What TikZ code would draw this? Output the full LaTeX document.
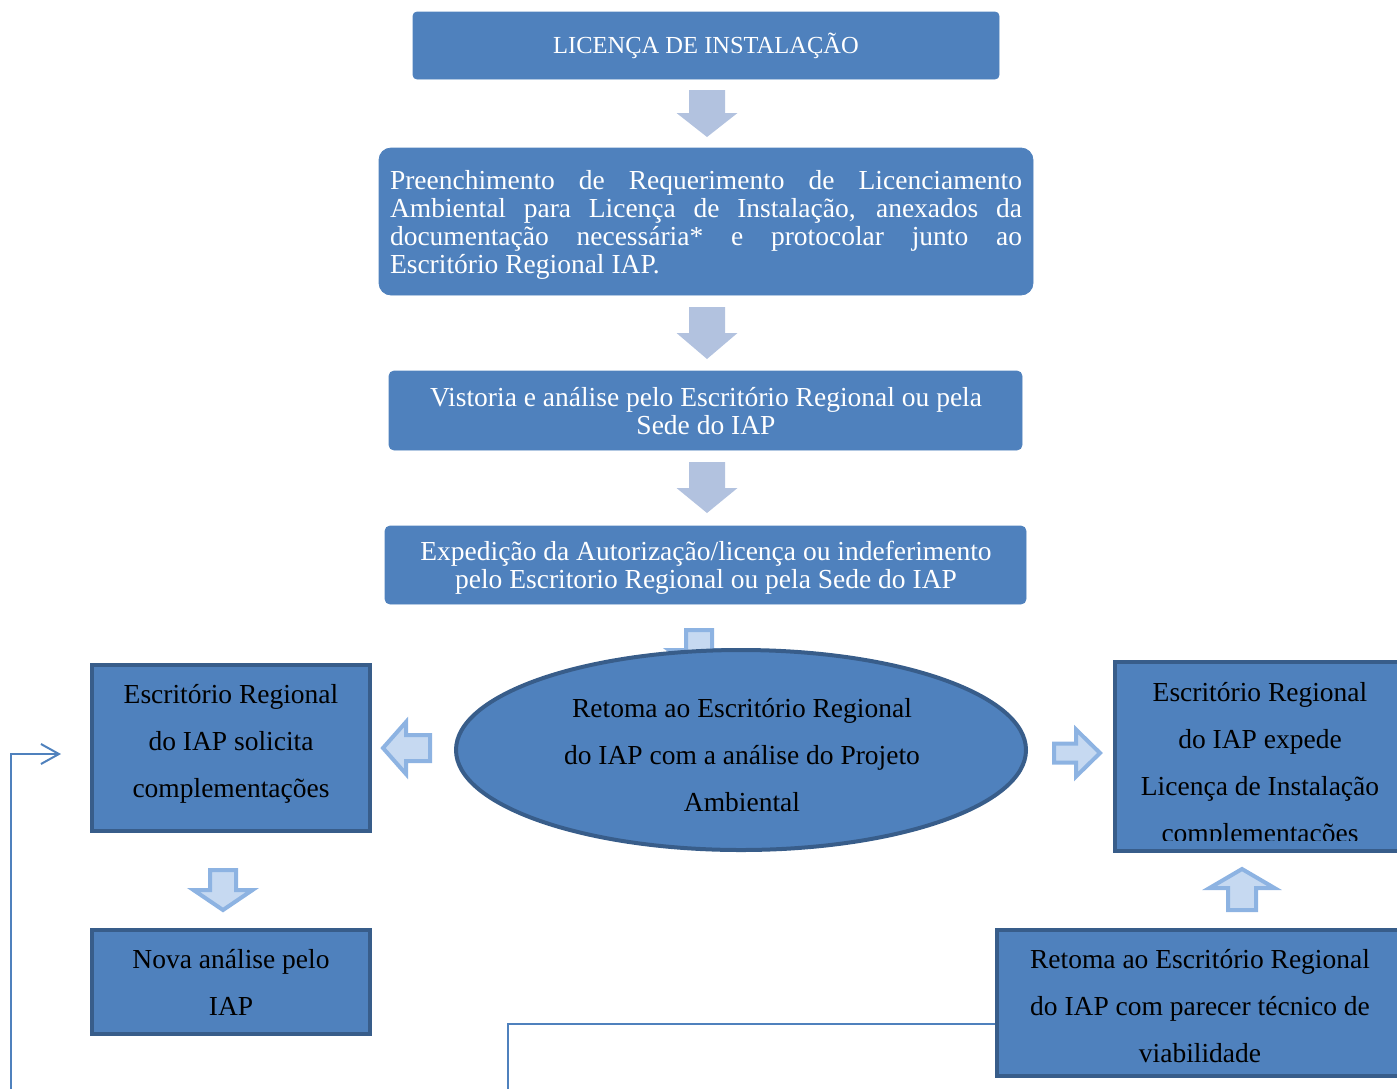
\documentclass[tikz,border=0pt]{standalone}
\usepackage{fontspec}
\setmainfont{Liberation Serif}
\usetikzlibrary{shapes.geometric,arrows.meta}
\definecolor{mainblue}{HTML}{4F81BD}
\definecolor{darkblue}{HTML}{385D8A}
\definecolor{toparrow}{RGB}{178,194,223}
\definecolor{lowfill}{HTML}{C6D9F1}
\definecolor{lowedge}{HTML}{8DB3E2}
\tikzset{
  pics/barrow/.style args={#1/#2/#3/#4}{code={
    \path[pic actions] (0,-#3) -- (#1-#2,-#3) -- (#1-#2,-#4) -- (#1,0) -- (#1-#2,#4) -- (#1-#2,#3) -- (0,#3) -- cycle;
  }},
  topbox/.style={fill=mainblue, draw=mainblue, line width=0.8, rounded corners=4, inner sep=0, outer sep=0},
  lowbox/.style={fill=mainblue, draw=darkblue, line width=4.5, inner sep=0, outer sep=0},
  toptext/.style={text=white, font=\fontsize{27.5}{27.8}\selectfont, inner sep=0, align=center},
  lowtext/.style={text=black, font=\fontsize{27.5}{47}\selectfont, inner sep=0, align=center},
  uparr/.style={fill=toparrow},
  lowarr/.style={fill=lowfill, draw=lowedge, line width=4, line join=miter},
  conn/.style={draw=mainblue, line width=2}
}
\begin{document}
\begin{tikzpicture}[x=1pt,y=-1pt]
\useasboundingbox (0,0) rectangle (1397,1088);
\clip (0,0) rectangle (1397,1088);

% top column
\node[topbox, minimum width=586, minimum height=67] (b1) at (706,45.5) {};
\node[toptext, font=\fontsize{24.5}{28}\selectfont] (t1) at (706,46) {LICENÇA DE INSTALAÇÃO};

\pic[uparr, rotate=-90] at (707,90) {barrow={47/24/18/30.5}};

\node[topbox, rounded corners=12, minimum width=654, minimum height=147] (b2) at (706,221.5) {};
\node[toptext, text width=632, align=justify] (t2) at (706,225) {Preenchimento de Requerimento de Licenciamento\linebreak Ambiental para Licença de Instalação, anexados da\linebreak documentação necessária* e protocolar junto ao\linebreak Escritório Regional IAP.};

\pic[uparr, rotate=-90] at (707,307) {barrow={52/26/18/30.5}};

\node[topbox, rounded corners=5, minimum width=633, minimum height=79] (b3) at (705.5,410.5) {};
\node[toptext] (t3) at (706,411) {Vistoria e análise pelo Escritório Regional ou pela\\Sede do IAP};

\pic[uparr, rotate=-90] at (707,462) {barrow={51/25/18/30.5}};

\node[topbox, rounded corners=5, minimum width=641, minimum height=78] (b4) at (705.5,565) {};
\node[toptext] (t4) at (706,568) {Expedição da Autorização/licença ou indeferimento\\pelo Escritorio Regional ou pela Sede do IAP};

% small arrow hidden behind the ellipse
\pic[lowarr, rotate=-90] at (699,630) {barrow={42/22/13/30}};

% connectors
\coordinate (c1s) at (11,1095);
\coordinate (c1e) at (61,754);
\draw[conn, -{Straight Barb[length=18, width=20, line width=2]}] (c1s) |- (c1e);
\coordinate (c2s) at (508,1095);
\coordinate (c2e) at (997,1024);
\draw[conn] (c2s) |- (c2e);

% ellipse
\node[ellipse, fill=mainblue, draw=darkblue, line width=4, minimum width=570, minimum height=200, inner sep=0] (el) at (741,750) {};
\node[lowtext] (elt) at (742,755) {Retoma ao Escritório Regional\\do IAP com a análise do Projeto\\Ambiental};

% left column
\node[lowbox, minimum width=278, minimum height=166] (lb1) at (231,748) {};
\node[lowtext] (lb1t) at (231,744) {Escritório Regional\\do IAP solicita\\complementações};
\pic[lowarr, rotate=180] at (430,748) {barrow={47/23/13/26}};
\pic[lowarr, rotate=-90] at (223,870) {barrow={40/20/13/29.5}};
\node[lowbox, minimum width=278, minimum height=104] (lb2) at (231,982) {};
\node[lowtext] (lb2t) at (231,982) {Nova análise pelo\\IAP};

% right column
\pic[lowarr] at (1054,753) {barrow={46/24/9.5/23.5}};
\node[lowbox, minimum width=305, minimum height=189] (rb1) at (1267.5,756.5) {};
\begin{scope}
\clip (1117,664) rectangle (1397,840);
\node[lowtext] (rb1t) at (1260,765) {Escritório Regional\\do IAP expede\\Licença de Instalação\\complementações};
\end{scope}
\pic[lowarr, rotate=90] at (1242,910) {barrow={41/19/14/32.5}};
\node[lowbox, minimum width=423, minimum height=146] (rb2) at (1208.5,1003) {};
\node[lowtext] (rb2t) at (1200,1006) {Retoma ao Escritório Regional\\do IAP com parecer técnico de\\viabilidade};
\end{tikzpicture}
\end{document}
